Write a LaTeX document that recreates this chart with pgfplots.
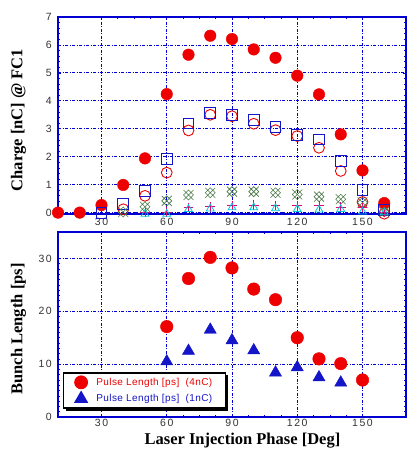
\documentclass[border=0pt]{standalone}
\usepackage{fontspec}
\setmainfont{Liberation Serif}
\setsansfont{Liberation Sans}
\newfontfamily\tickfont[LetterSpace=15]{Liberation Sans}
\newfontfamily\legfont[LetterSpace=4]{Liberation Sans}
\usepackage{pgfplots}
\pgfplotsset{compat=1.18}
\usetikzlibrary{shadows}
\definecolor{gblue}{RGB}{0,0,210}
\definecolor{mred}{RGB}{238,0,0}
\definecolor{mblue}{RGB}{20,20,200}
\definecolor{mgreen}{RGB}{70,120,70}
\definecolor{mpink}{RGB}{230,0,120}
\definecolor{mcyan}{RGB}{0,200,220}
\pgfdeclareplotmark{diamondx}{%
  \pgfpathmoveto{\pgfqpoint{0pt}{\pgfplotmarksize}}%
  \pgfpathlineto{\pgfqpoint{\pgfplotmarksize}{0pt}}%
  \pgfpathlineto{\pgfqpoint{0pt}{-\pgfplotmarksize}}%
  \pgfpathlineto{\pgfqpoint{-\pgfplotmarksize}{0pt}}%
  \pgfpathclose
  \pgfpathmoveto{\pgfqpoint{-\pgfplotmarksize}{-\pgfplotmarksize}}%
  \pgfpathlineto{\pgfqpoint{\pgfplotmarksize}{\pgfplotmarksize}}%
  \pgfpathmoveto{\pgfqpoint{-\pgfplotmarksize}{\pgfplotmarksize}}%
  \pgfpathlineto{\pgfqpoint{\pgfplotmarksize}{-\pgfplotmarksize}}%
  \pgfusepathqstroke}
\pgfplotsset{
  myaxis/.style={
    scale only axis, width=348pt, clip=false,
    xmin=10, xmax=170,
    xtick={30,60,90,120,150},
    minor x tick num=3,
    axis line style={gblue, line width=1.1pt},
    every tick/.style={gblue, line width=0.7pt},
    major tick length=3pt, minor tick length=2pt,
    tick align=inside,
    grid=major,
    major grid style={gblue, line width=0.8pt, dash pattern=on 3pt off 1.5pt on 1pt off 1.5pt},
    /pgf/number format/assume math mode=true,
    ticklabel style={font=\tickfont\fontsize{10.5}{11}\selectfont, text=black!80, inner sep=0pt},
    yticklabel style={anchor=east, xshift=-6pt},
    xticklabel style={anchor=north},
    every axis y label/.style={rotate=90, anchor=center, font=\bfseries\fontsize{16.5}{18}\selectfont},
  },
}
\begin{document}
\begin{tikzpicture}
\useasboundingbox (0,0) rectangle (407pt,449pt);
% ---------- top axis ----------
\begin{axis}[myaxis,
  at={(58pt,235pt)}, anchor=south west, height=197pt,
  ymin=-0.05, ymax=7, ytick={0,1,...,7}, minor y tick num=4,
  xticklabel style={yshift=-4pt},
  ylabel={Charge [nC] @ FC1},
  ylabel style={at={(axis description cs:-0.1135,0.477)}},
]
\addplot[only marks, mark=*, mark size=5.8pt, color=mred] coordinates {
(10,0) (20,0) (30,0.27) (40,0.99) (50,1.94) (60,4.24) (70,5.65) (80,6.33) (90,6.21) (100,5.84) (110,5.54) (120,4.9) (130,4.23) (140,2.8) (150,1.51) (160,0.34)};
\addplot[only marks, mark=o, mark size=5.4pt, color=mred, mark options={line width=0.9pt}] coordinates {
(40,0.12) (50,0.6) (60,1.43) (70,2.94) (80,3.5) (90,3.45) (100,3.18) (110,2.95) (120,2.74) (130,2.32) (140,1.49) (150,0.38) (160,-0.04)};
\addplot[only marks, mark=square, mark size=5.4pt, color=mblue, mark options={line width=0.9pt}] coordinates {
(30,0) (40,0.3) (50,0.77) (60,1.93) (70,3.19) (80,3.57) (90,3.49) (100,3.31) (110,3.07) (120,2.77) (130,2.62) (140,1.85) (150,0.81) (160,0.1)};
\addplot[only marks, mark=diamondx, mark size=5pt, color=mgreen, mark options={line width=0.6pt}] coordinates {
(40,0.02) (50,0.21) (60,0.42) (70,0.63) (80,0.71) (90,0.75) (100,0.75) (110,0.71) (120,0.65) (130,0.57) (140,0.48) (150,0.36) (160,0.02)};
\addplot[only marks, mark=+, mark size=4.8pt, color=mpink, mark options={line width=1pt}] coordinates {
(50,0) (60,0.02) (70,0.18) (80,0.21) (90,0.26) (100,0.27) (110,0.26) (120,0.24) (130,0.24) (140,0.2) (150,0.18) (160,0)};
\addplot[only marks, mark=triangle, mark size=4.5pt, color=mcyan, mark options={line width=0.8pt}] coordinates {
(50,-0.05) (60,-0.05) (70,0.12) (80,0.14) (90,0.18) (100,0.18) (110,0.15) (120,0.12) (130,0.1) (140,0.12) (150,0.03) (160,0)};
\end{axis}
% ---------- bottom axis ----------
\begin{axis}[myaxis,
  at={(58pt,32pt)}, anchor=south west, height=185pt,
  ymin=0, ymax=35, ytick={0,10,20,30}, minor y tick num=9,
  xtick={60,90,120,150},
  extra x ticks={30},
  extra x tick style={grid style={gblue!35, line width=0.5pt, solid}},
  xticklabel style={yshift=-2pt},
  ylabel={Bunch Length [ps]},
  ylabel style={at={(axis description cs:-0.1135,0.476)}},
  xlabel={Laser Injection Phase [Deg]},
  xlabel style={at={(axis description cs:0.53,-0.13)}, anchor=center, font=\bfseries\fontsize{16.5}{18}\selectfont},
  legend style={at={(0.015,0.045)}, anchor=south west, draw=black, line width=1.2pt, fill=white,
    drop shadow={shadow xshift=2.5pt, shadow yshift=-2.5pt, fill=black, opacity=1},
    font=\legfont\fontsize{10}{12}\selectfont, inner xsep=11pt, inner ysep=3pt, row sep=3pt,
    /tikz/every odd column/.append style={column sep=7pt}},
  legend cell align=left,
]
\addplot[only marks, mark=*, mark size=6.3pt, color=mred] coordinates {
(60,17.1) (70,26.2) (80,30.2) (90,28.2) (100,24.2) (110,22.2) (120,15) (130,11) (140,10.1) (150,7)};
\addlegendentry{\textcolor{mred}{Pulse\ Length\ [ps]\ \ (4nC)}}
\addplot[only marks, mark=triangle*, mark size=7pt, color=mblue] coordinates {
(60,10.5) (70,12.5) (80,16.5) (90,14.5) (100,12.6) (110,8.4) (120,9.4) (130,7.5) (140,6.5)};
\addlegendentry{\textcolor{mblue}{Pulse\ Length\ [ps]\ \ (1nC)}}
\end{axis}
\end{tikzpicture}
\end{document}
